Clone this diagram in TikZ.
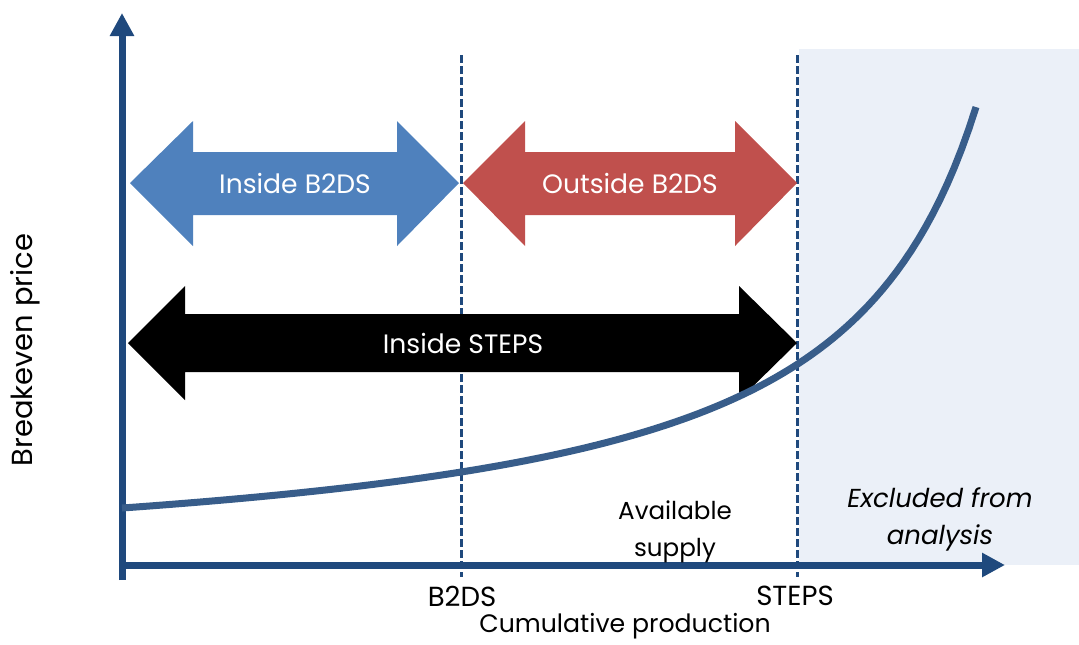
\documentclass[tikz,border=0pt]{standalone}
\usepackage{fontspec}
\setmainfont{Poppins}
\usepackage{tikz}
\usetikzlibrary{arrows.meta}
\definecolor{axisblue}{HTML}{1F497D}
\definecolor{curveblue}{HTML}{385D8A}
\definecolor{insideblue}{HTML}{4F81BD}
\definecolor{outsidered}{HTML}{C0504D}
\definecolor{excludedbg}{HTML}{EBF0F8}

\begin{document}
\begin{tikzpicture}[x=0.5pt, y=-0.5pt, font=\fontsize{13}{18.5}\selectfont,
    axis/.style={draw=axisblue, line width=3.5pt, -{Triangle[length=11.5pt, width=11.5pt]}},
    guide/.style={draw=axisblue, line width=1.5pt, dash pattern=on 4pt off 1.5pt},
    band/.style={text=white, font=\fontsize{13.3}{16}\selectfont}]
    \useasboundingbox (0,0) rectangle (1079,644);

    % Excluded region
    \fill[excludedbg] (799,49) rectangle (1079,565);

    % Axes
    \coordinate (origin) at (122,580);
    \coordinate (ytop) at (122,13);
    \coordinate (xleft) at (119,565);
    \coordinate (xright) at (1005,565);
    \draw[axis] (origin) -- (ytop);
    \draw[axis] (xleft) -- (xright);

    % Scenario limits
    \coordinate (b2dstop) at (461,55);
    \coordinate (b2dsbot) at (461,577);
    \coordinate (stepstop) at (797,55);
    \coordinate (stepsbot) at (797,577);
    \draw[guide] (b2dstop) -- (b2dsbot);
    \draw[guide] (stepstop) -- (stepsbot);

    % Inside B2DS
    \fill[insideblue] (130,183) -- (193,121) -- (193,152) -- (397,152) -- (397,121)
        -- (459,183) -- (397,246) -- (397,215) -- (193,215) -- (193,246) -- cycle;
    \node[band] (inb2ds) at (295,183) {Inside B2DS};

    % Outside B2DS
    \fill[outsidered] (463,183) -- (525,121) -- (525,152) -- (735,152) -- (735,121)
        -- (797,183) -- (735,246) -- (735,215) -- (525,215) -- (525,246) -- cycle;
    \node[band] (outb2ds) at (630,183) {Outside B2DS};

    % Inside STEPS
    \fill[black] (128,343) -- (185,286) -- (185,314) -- (739,314) -- (739,286)
        -- (797,343) -- (739,400) -- (739,372) -- (185,372) -- (185,400) -- cycle;
    \node[band] (insteps) at (463,343) {Inside STEPS};

    % Supply curve
    \draw[curveblue, line width=3.5pt] plot[domain=122:976, samples=120, variable=\u]
        (\u, {508 - 0.00316*(\u-122) - 680.8*(100/(1122-\u) - 0.1)});

    % Labels
    \node[align=center, font=\fontsize{12.3}{18.5}\selectfont] (supply) at (675,532) {Available\\supply};
    \node[align=center, font=\fontsize{13}{18.5}\selectfont\itshape] (excluded) at (940,519)
        {Excluded from\\analysis};
    \node[font=\fontsize{13.8}{16}\selectfont] (b2dslbl) at (462,596) {B2DS};
    \node[font=\fontsize{13.8}{16}\selectfont] (stepslbl) at (795,596) {STEPS};
    \node[font=\fontsize{12.6}{16}\selectfont] (xlabel) at (625,626) {Cumulative production};
    \node[rotate=90, font=\fontsize{14.5}{16}\selectfont] (ylabel) at (25,350) {Breakeven price};
\end{tikzpicture}
\end{document}
